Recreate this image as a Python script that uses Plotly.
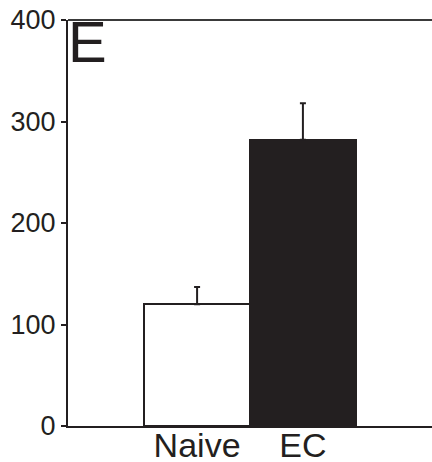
import plotly.graph_objects as go

categories = ["Naive", "EC"]
values = [120, 282]
errors = [17, 36]
bar_colors = ["#ffffff", "#231f20"]
y_ticks = [0, 100, 200, 300, 400]
panel_label = "E"

ink = "#231f20"

fig = go.Figure()
fig.add_trace(go.Bar(
    x=categories,
    y=values,
    width=1.0,
    marker=dict(color=bar_colors, line=dict(color=ink, width=2)),
    error_y=dict(type="data", symmetric=False, array=errors,
                 arrayminus=[0] * len(errors), color=ink,
                 thickness=2, width=3),
))

fig.update_layout(
    width=432, height=462,
    margin=dict(l=68, r=0, t=20, b=36, autoexpand=False),
    paper_bgcolor="white", plot_bgcolor="white",
    showlegend=False,
    font=dict(family="Liberation Sans, Arial, sans-serif", color=ink),
    bargap=0,
)
fig.update_xaxes(
    range=[-1.22, 2.22],
    automargin=False,
    showline=True, linecolor=ink, linewidth=2,
    ticks="", showgrid=False, zeroline=False,
    tickfont=dict(size=34, color=ink),
    ticklabelstandoff=-12,
)
fig.update_yaxes(
    range=[0, 400],
    automargin=False,
    tickvals=y_ticks, ticktext=[str(v) for v in y_ticks],
    showline=True, linecolor=ink, linewidth=2,
    ticks="outside", ticklen=5, tickwidth=2, tickcolor=ink,
    showgrid=False, zeroline=False,
    tickfont=dict(size=27, color=ink),
)
# top border line
fig.add_shape(type="line", xref="paper", yref="paper", x0=0, x1=1, y0=1, y1=1,
              line=dict(color="#3a3a3a", width=2))
fig.add_annotation(text=panel_label, xref="paper", yref="paper", x=0.0, y=1.0,
                   xanchor="left", yanchor="top", showarrow=False,
                   font=dict(size=58, color=ink), xshift=-2, yshift=13)

fig.write_html(
    "out.html",
    config={"displayModeBar": False},
    post_script=("document.documentElement.style.overflow='hidden';"
                 "document.body.style.overflow='hidden';"
                 "document.body.style.margin='0';document.body.style.padding='0';"
                 "var d=document.getElementById('{plot_id}');"
                 "d.style.position='fixed';d.style.left='0px';d.style.top='0px';"),
)
